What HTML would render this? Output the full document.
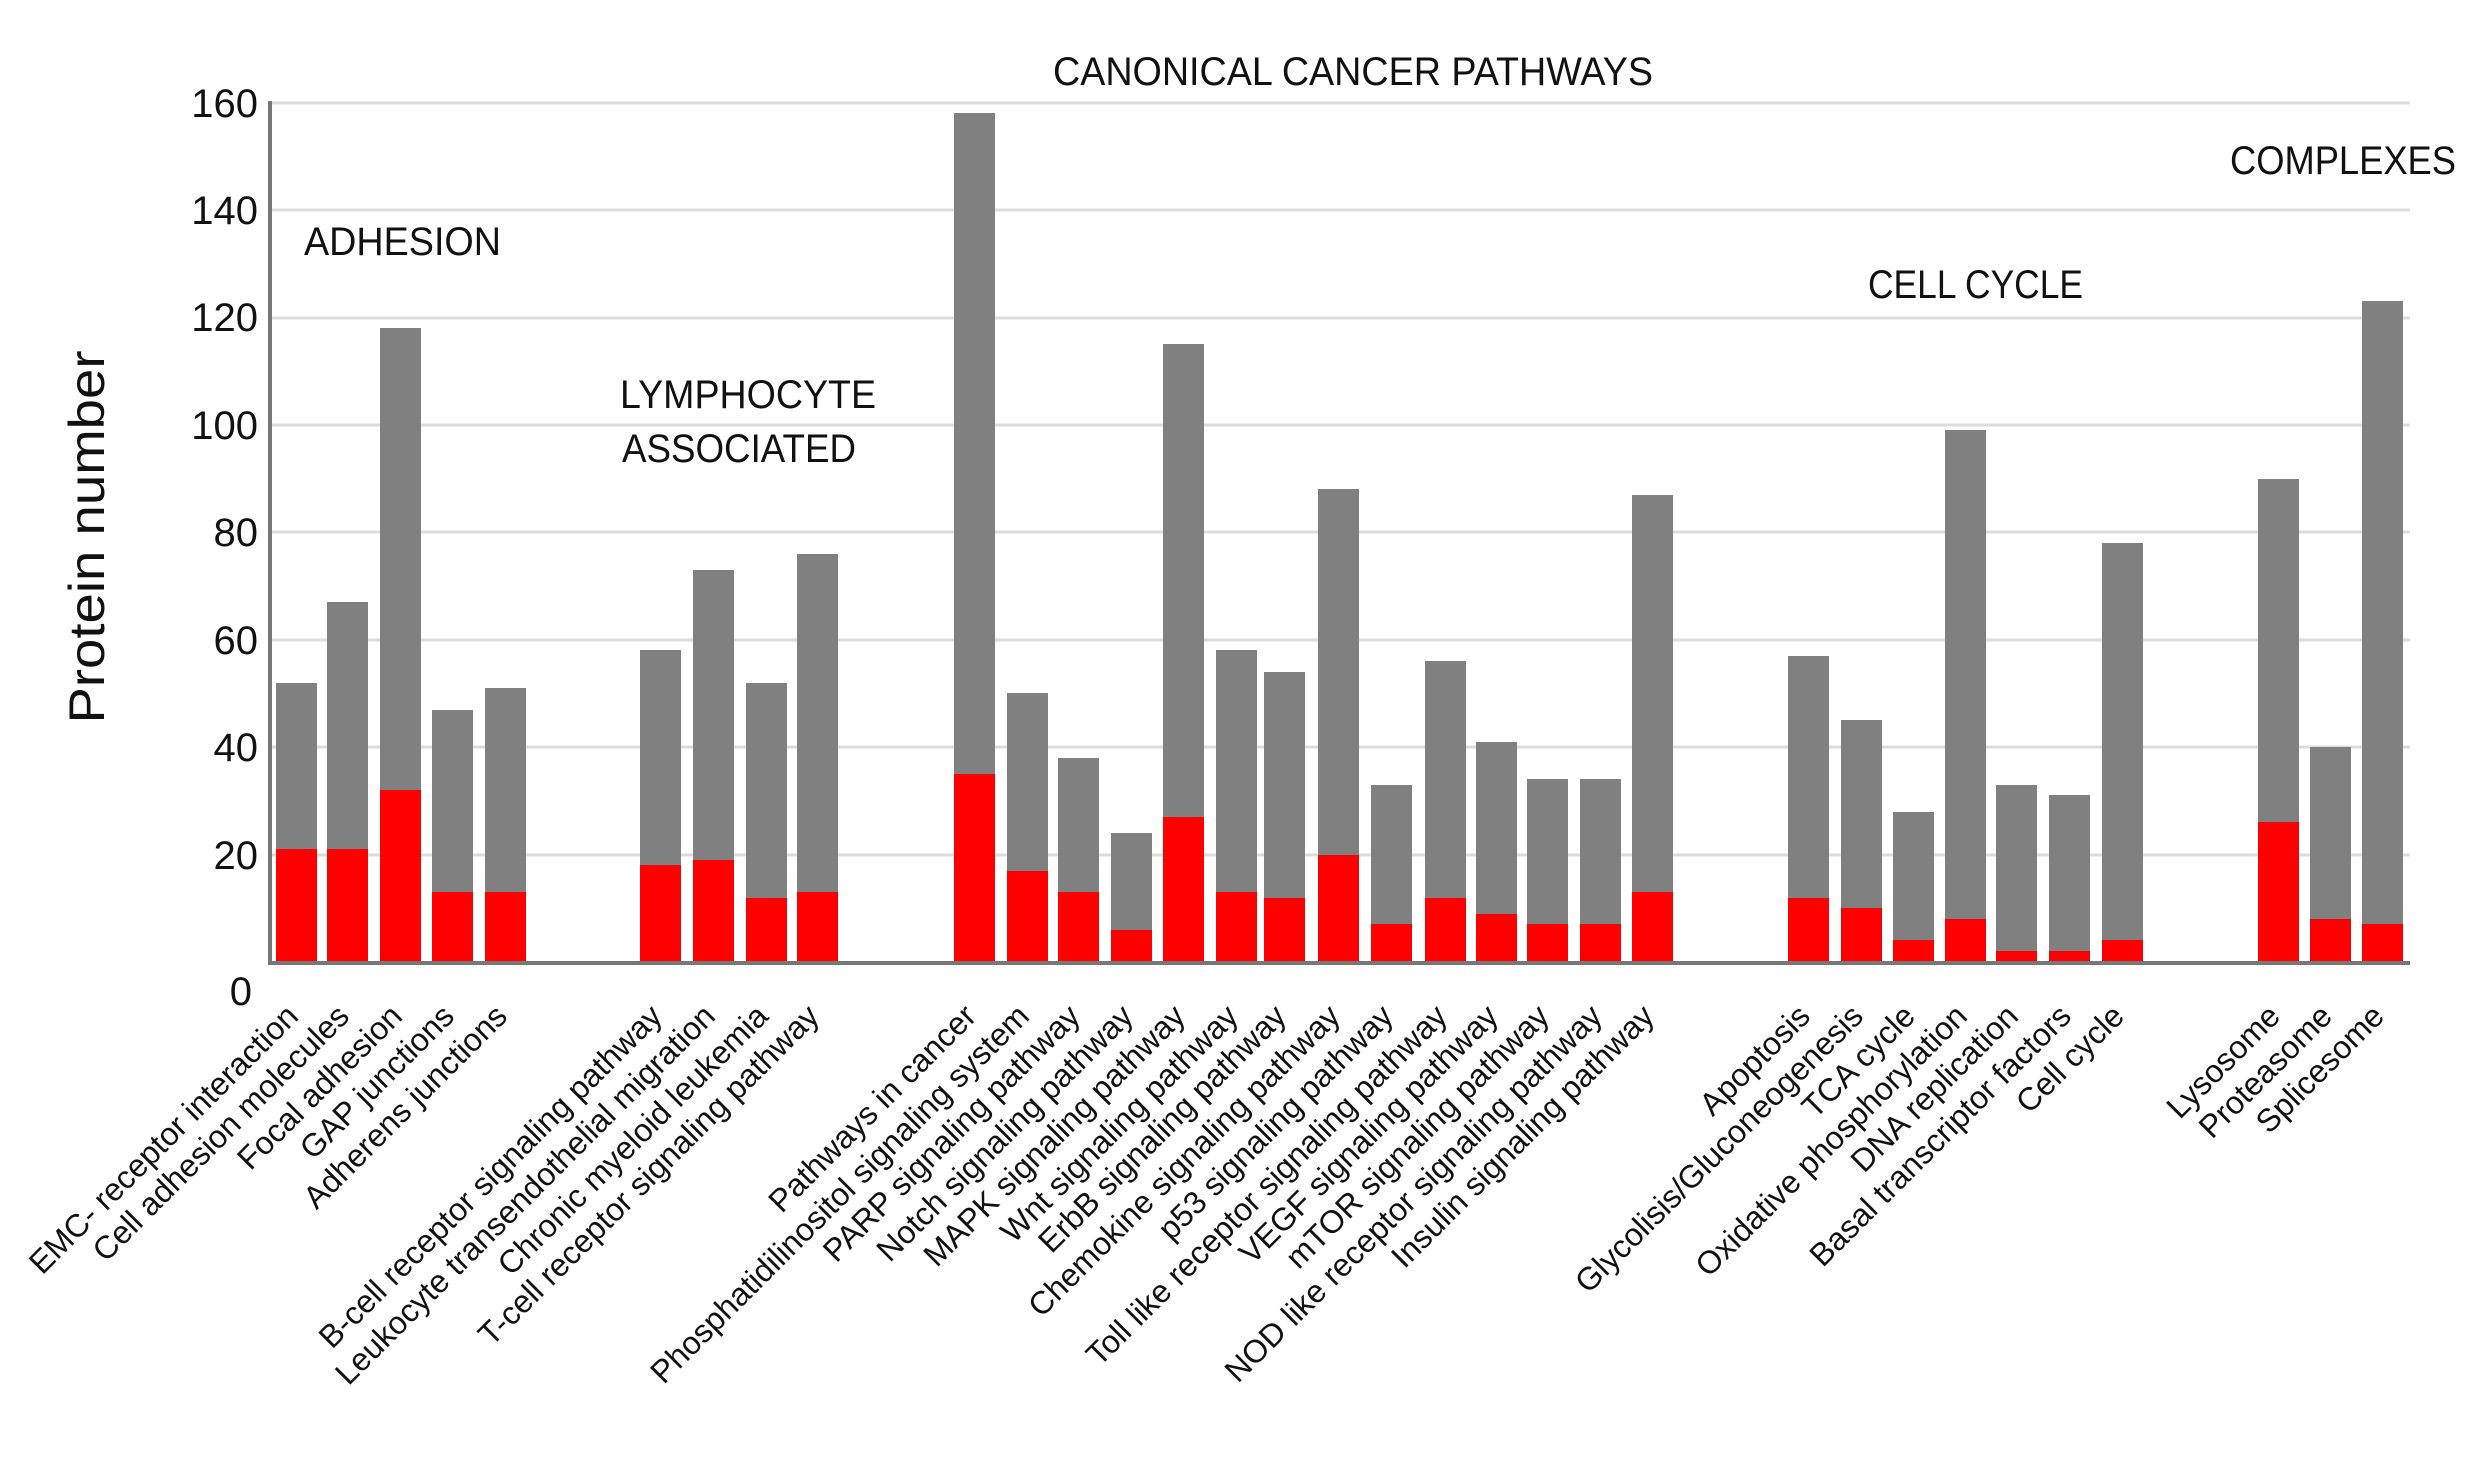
<!DOCTYPE html>
<html><head><meta charset="utf-8"><style>html,body{margin:0;padding:0;background:#fff}svg{display:block}text{font-family:"Liberation Sans",sans-serif;fill:#111}</style></head>
<body>
<svg width="2486" height="1472" viewBox="0 0 2486 1472" xmlns="http://www.w3.org/2000/svg">
<g stroke="#dcdcdc" stroke-width="3">
<line x1="270" y1="103" x2="2410" y2="103"/><line x1="270" y1="210" x2="2410" y2="210"/>
<line x1="270" y1="318" x2="2410" y2="318"/><line x1="270" y1="425" x2="2410" y2="425"/>
<line x1="270" y1="532" x2="2410" y2="532"/><line x1="270" y1="640" x2="2410" y2="640"/>
<line x1="270" y1="747" x2="2410" y2="747"/><line x1="270" y1="855" x2="2410" y2="855"/>
</g>
<g font-size="40" text-anchor="end">
<text x="258" y="117">160</text><text x="258" y="224">140</text><text x="258" y="331">120</text>
<text x="258" y="439">100</text><text x="258" y="546">80</text><text x="258" y="654">60</text>
<text x="258" y="761">40</text><text x="258" y="869">20</text><text x="252" y="1005">0</text>
</g>
<text transform="translate(104,537) rotate(-90)" font-size="50" text-anchor="middle" textLength="373" lengthAdjust="spacingAndGlyphs">Protein number</text>
<g font-size="40">
<text x="1053" y="85" textLength="600" lengthAdjust="spacingAndGlyphs">CANONICAL CANCER PATHWAYS</text>
<text x="304" y="255" textLength="197" lengthAdjust="spacingAndGlyphs">ADHESION</text>
<text x="620" y="408" textLength="256" lengthAdjust="spacingAndGlyphs">LYMPHOCYTE</text>
<text x="622" y="462" textLength="234" lengthAdjust="spacingAndGlyphs">ASSOCIATED</text>
<text x="1868" y="298" textLength="215" lengthAdjust="spacingAndGlyphs">CELL CYCLE</text>
<text x="2230" y="174" textLength="226" lengthAdjust="spacingAndGlyphs">COMPLEXES</text>
</g>
<g fill="#808080">
<rect x="276" y="683" width="41" height="279"/><rect x="327" y="602" width="41" height="360"/>
<rect x="380" y="328" width="41" height="634"/><rect x="432" y="710" width="41" height="252"/>
<rect x="485" y="688" width="41" height="274"/>
<rect x="640" y="650" width="41" height="312"/><rect x="693" y="570" width="41" height="392"/>
<rect x="746" y="683" width="41" height="279"/><rect x="797" y="554" width="41" height="408"/>
<rect x="954" y="113" width="41" height="849"/><rect x="1007" y="693" width="41" height="269"/>
<rect x="1058" y="758" width="41" height="204"/><rect x="1111" y="833" width="41" height="129"/>
<rect x="1163" y="344" width="41" height="618"/><rect x="1216" y="650" width="41" height="312"/>
<rect x="1264" y="672" width="41" height="290"/><rect x="1318" y="489" width="41" height="473"/>
<rect x="1371" y="785" width="41" height="177"/><rect x="1425" y="661" width="41" height="301"/>
<rect x="1476" y="742" width="41" height="220"/><rect x="1527" y="779" width="41" height="183"/>
<rect x="1580" y="779" width="41" height="183"/><rect x="1632" y="495" width="41" height="467"/>
<rect x="1788" y="656" width="41" height="306"/><rect x="1841" y="720" width="41" height="242"/>
<rect x="1893" y="812" width="41" height="150"/><rect x="1945" y="430" width="41" height="532"/>
<rect x="1996" y="785" width="41" height="177"/><rect x="2049" y="795" width="41" height="167"/>
<rect x="2102" y="543" width="41" height="419"/>
<rect x="2258" y="479" width="41" height="483"/><rect x="2310" y="747" width="41" height="215"/>
<rect x="2362" y="301" width="41" height="661"/>
</g>
<g fill="#ff0000">
<rect x="276" y="849" width="41" height="113"/><rect x="327" y="849" width="41" height="113"/>
<rect x="380" y="790" width="41" height="172"/><rect x="432" y="892" width="41" height="70"/>
<rect x="485" y="892" width="41" height="70"/>
<rect x="640" y="865" width="41" height="97"/><rect x="693" y="860" width="41" height="102"/>
<rect x="746" y="898" width="41" height="64"/><rect x="797" y="892" width="41" height="70"/>
<rect x="954" y="774" width="41" height="188"/><rect x="1007" y="871" width="41" height="91"/>
<rect x="1058" y="892" width="41" height="70"/><rect x="1111" y="930" width="41" height="32"/>
<rect x="1163" y="817" width="41" height="145"/><rect x="1216" y="892" width="41" height="70"/>
<rect x="1264" y="898" width="41" height="64"/><rect x="1318" y="855" width="41" height="107"/>
<rect x="1371" y="924" width="41" height="38"/><rect x="1425" y="898" width="41" height="64"/>
<rect x="1476" y="914" width="41" height="48"/><rect x="1527" y="924" width="41" height="38"/>
<rect x="1580" y="924" width="41" height="38"/><rect x="1632" y="892" width="41" height="70"/>
<rect x="1788" y="898" width="41" height="64"/><rect x="1841" y="908" width="41" height="54"/>
<rect x="1893" y="940" width="41" height="22"/><rect x="1945" y="919" width="41" height="43"/>
<rect x="1996" y="951" width="41" height="11"/><rect x="2049" y="951" width="41" height="11"/>
<rect x="2102" y="940" width="41" height="22"/>
<rect x="2258" y="822" width="41" height="140"/><rect x="2310" y="919" width="41" height="43"/>
<rect x="2362" y="924" width="41" height="38"/>
</g>
<line x1="270" y1="101" x2="270" y2="964" stroke="#777" stroke-width="4"/>
<line x1="268" y1="963" x2="2410" y2="963" stroke="#777" stroke-width="4"/>
<g font-size="32" text-anchor="end">
<text transform="translate(300,1018) rotate(-45)">EMC- receptor interaction</text>
<text transform="translate(351,1018) rotate(-45)">Cell adhesion molecules</text>
<text transform="translate(404,1018) rotate(-45)">Focal adhesion</text>
<text transform="translate(456,1018) rotate(-45)">GAP junctions</text>
<text transform="translate(509,1018) rotate(-45)">Adherens junctions</text>
<text transform="translate(664,1018) rotate(-45)">B-cell receptor signaling pathway</text>
<text transform="translate(717,1018) rotate(-45)">Leukocyte transendothelial migration</text>
<text transform="translate(770,1018) rotate(-45)">Chronic myeloid leukemia</text>
<text transform="translate(821,1018) rotate(-45)">T-cell receptor signaling pathway</text>
<text transform="translate(978,1018) rotate(-45)">Pathways in cancer</text>
<text transform="translate(1031,1018) rotate(-45)">Phosphatidilinositol signaling system</text>
<text transform="translate(1082,1018) rotate(-45)">PARP signaling pathway</text>
<text transform="translate(1135,1018) rotate(-45)">Notch signaling pathway</text>
<text transform="translate(1187,1018) rotate(-45)">MAPK signaling pathway</text>
<text transform="translate(1240,1018) rotate(-45)">Wnt signaling pathway</text>
<text transform="translate(1288,1018) rotate(-45)">ErbB signaling pathway</text>
<text transform="translate(1342,1018) rotate(-45)">Chemokine signaling pathway</text>
<text transform="translate(1395,1018) rotate(-45)">p53 signaling pathway</text>
<text transform="translate(1449,1018) rotate(-45)">Toll like receptor signaling pathway</text>
<text transform="translate(1500,1018) rotate(-45)">VEGF signaling pathway</text>
<text transform="translate(1551,1018) rotate(-45)">mTOR signaling pathway</text>
<text transform="translate(1604,1018) rotate(-45)">NOD like receptor signaling pathway</text>
<text transform="translate(1656,1018) rotate(-45)">Insulin signaling pathway</text>
<text transform="translate(1812,1018) rotate(-45)">Apoptosis</text>
<text transform="translate(1865,1018) rotate(-45)">Glycolisis/Gluconeogenesis</text>
<text transform="translate(1917,1018) rotate(-45)">TCA cycle</text>
<text transform="translate(1969,1018) rotate(-45)">Oxidative phosphorylation</text>
<text transform="translate(2020,1018) rotate(-45)">DNA replication</text>
<text transform="translate(2073,1018) rotate(-45)">Basal transcriptor factors</text>
<text transform="translate(2126,1018) rotate(-45)">Cell cycle</text>
<text transform="translate(2282,1018) rotate(-45)">Lysosome</text>
<text transform="translate(2334,1018) rotate(-45)">Proteasome</text>
<text transform="translate(2386,1018) rotate(-45)">Splicesome</text>
</g>
</svg>
</body></html>
